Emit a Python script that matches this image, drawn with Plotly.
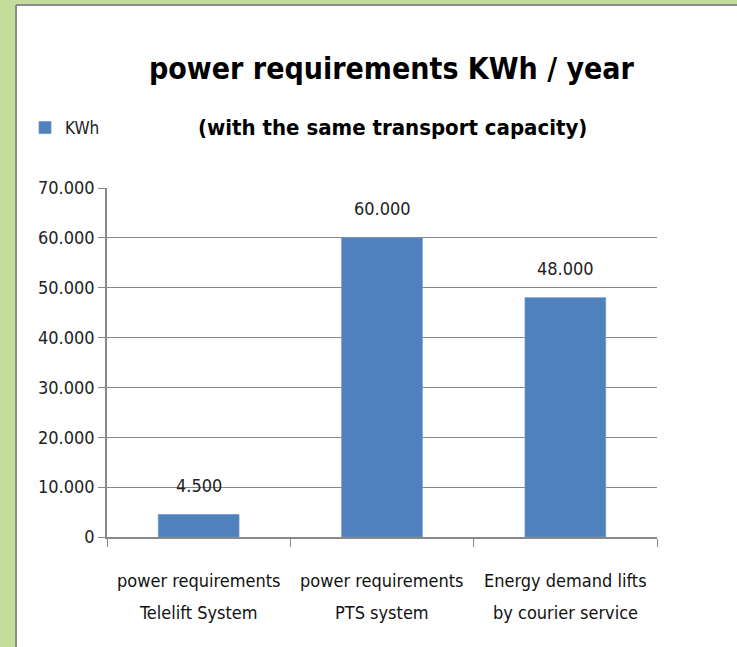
import plotly.graph_objects as go

categories = ["Telelift", "PTS", "Courier"]
label_line1 = ["power requirements", "power requirements", "Energy demand lifts"]
label_line2 = ["Telelift System", "PTS system", "by courier service"]
values = [4500, 60000, 48000]
y_ticks = [0, 10000, 20000, 30000, 40000, 50000, 60000, 70000]

FONT = "DejaVu Sans Condensed, Liberation Sans Narrow, sans-serif"
W, H = 737, 647
ml, mr, mt, mb = 107, 80, 188, 110
pw, ph = W - ml - mr, H - mt - mb

def px_x(x):
    return (x - ml) / pw

def px_y(y):
    return (H - mb - y) / ph

def fmt(v):
    return f"{v:,}".replace(",", ".")

fig = go.Figure()
fig.add_trace(go.Bar(
    x=categories, y=values, name="KWh",
    marker=dict(color="#4F81BD", line=dict(color="#6a96cb", width=0.8)),
    width=0.44, hoverinfo="skip",
))

shapes = [
    dict(type="rect", xref="paper", yref="paper", x0=px_x(17), x1=px_x(W + 5),
         y0=px_y(H + 5), y1=px_y(6), fillcolor="white", line=dict(width=0), layer="below"),
    dict(type="line", xref="paper", yref="paper", x0=px_x(16), x1=px_x(W + 5),
         y0=px_y(5), y1=px_y(5), line=dict(color="#8c8c8c", width=2), layer="below"),
    dict(type="line", xref="paper", yref="paper", x0=px_x(16), x1=px_x(16),
         y0=px_y(5), y1=px_y(H + 5), line=dict(color="#8c8c8c", width=2), layer="below"),
]

annotations = []
for c, v in zip(categories, values):
    annotations.append(dict(x=c, y=v, xref="x", yref="y", text=fmt(v), showarrow=False,
                            yshift=29, yanchor="middle",
                            font=dict(family=FONT, size=18, color="#222")))
for c, l1, l2 in zip(categories, label_line1, label_line2):
    annotations.append(dict(x=c, y=px_y(580), xref="x", yref="paper", text=l1, showarrow=False,
                            font=dict(family=FONT, size=18, color="#111"), yanchor="middle"))
    annotations.append(dict(x=c, y=px_y(612), xref="x", yref="paper", text=l2, showarrow=False,
                            font=dict(family=FONT, size=18, color="#111"), yanchor="middle"))
annotations.append(dict(x=px_x(392), y=px_y(68), xref="paper", yref="paper",
                        text="<b>power requirements KWh / year</b>", showarrow=False,
                        font=dict(family=FONT, size=30, color="black"), yanchor="middle"))
annotations.append(dict(x=px_x(392), y=px_y(128), xref="paper", yref="paper",
                        text="<b>(with the same transport capacity)</b>", showarrow=False,
                        font=dict(family=FONT, size=22, color="black"), yanchor="middle"))

fig.update_layout(
    width=W, height=H,
    margin=dict(l=ml, r=mr, t=mt, b=mb),
    paper_bgcolor="#C3DE9B",
    plot_bgcolor="rgba(0,0,0,0)",
    separators=",.",
    showlegend=True,
    legend=dict(x=px_x(25), y=px_y(128), xanchor="left", yanchor="middle",
                font=dict(family=FONT, size=17, color="#222"), bgcolor="rgba(0,0,0,0)",
                itemwidth=30),
    shapes=shapes,
    annotations=annotations,
    bargap=0.56,
)
fig.update_xaxes(
    showticklabels=False, tickson="boundaries", ticks="outside", ticklen=8,
    tickcolor="#888", showline=True, linecolor="#888", linewidth=1.5, showgrid=False,
)
fig.update_yaxes(
    range=[0, 70000], tickvals=y_ticks, tickformat=",", ticks="outside", ticklen=7,
    tickcolor="#888", showline=True, linecolor="#888", linewidth=1.5,
    showgrid=True, gridcolor="#888", gridwidth=1.2, zeroline=False,
    tickfont=dict(family=FONT, size=18, color="#222"),
)

fig.write_html("out.html", config={"displayModeBar": False},
               post_script="document.body.style.margin='0';document.body.style.background='#C3DE9B';")
